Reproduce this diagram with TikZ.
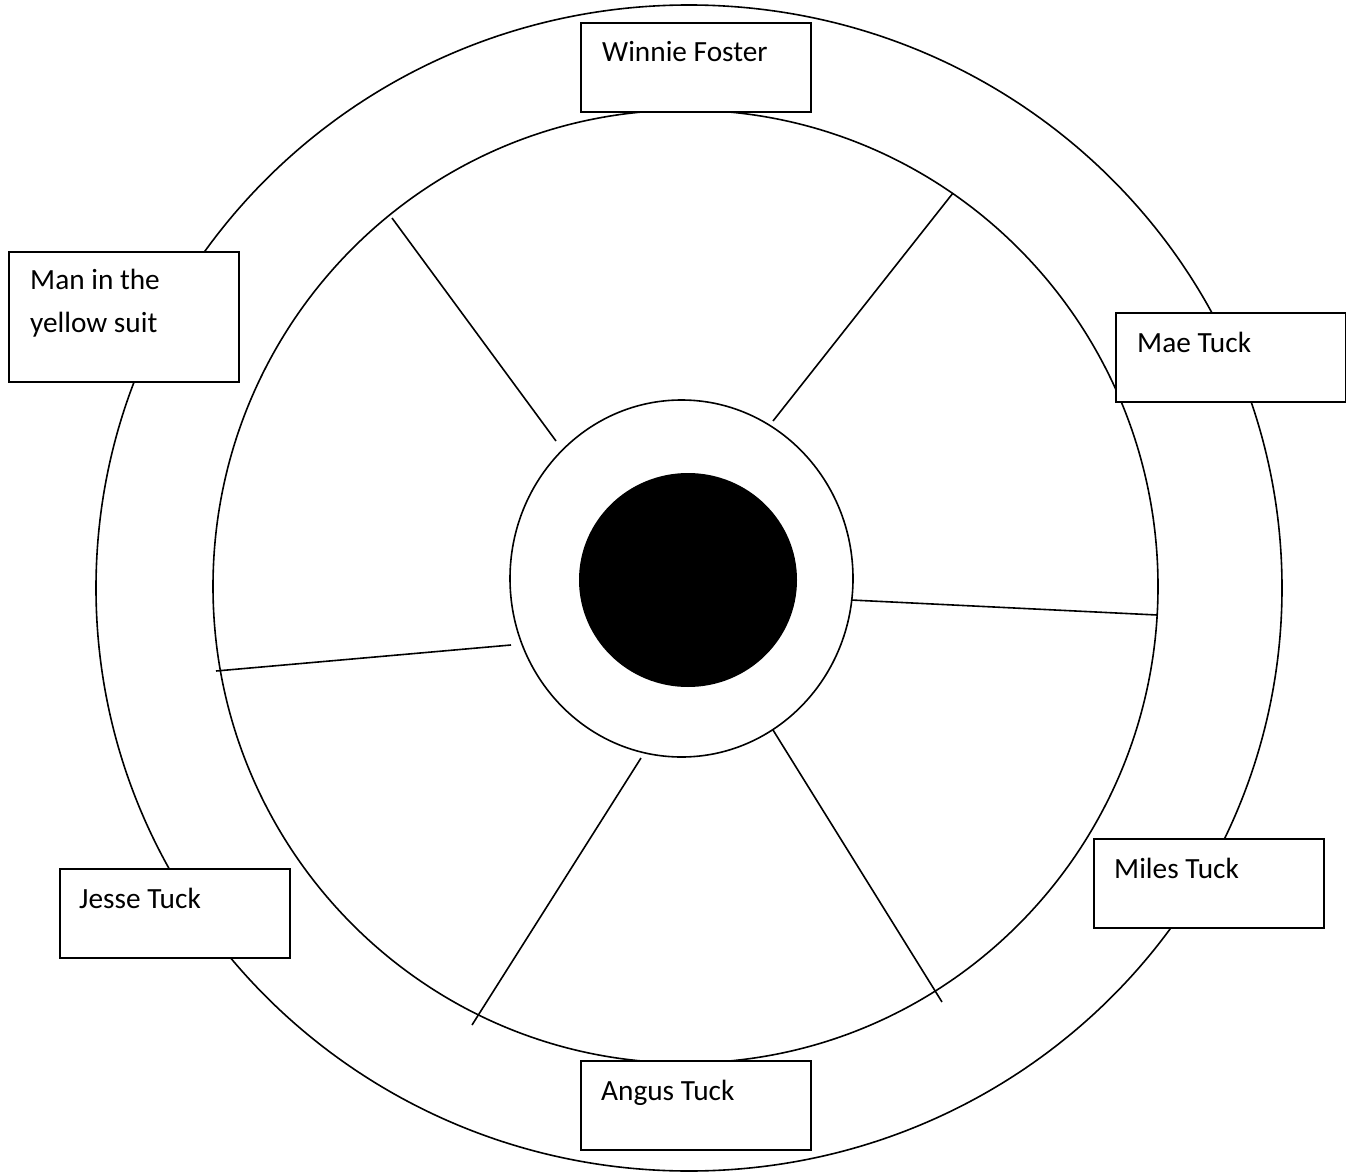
\documentclass[tikz,border=0pt]{standalone}
\usepackage{fontspec}
\setmainfont{Carlito}
\begin{document}
\begin{tikzpicture}[x=1pt,y=-1pt,
  ring/.style={draw=black,line width=1.6pt},
  spoke/.style={draw=black,line width=1.6pt},
  namebox/.style={draw=black,fill=white,line width=1.6pt,rectangle,minimum width=230pt,minimum height=89pt,anchor=north west,inner sep=0pt},
  lbl/.style={font=\fontsize{29.3}{42}\selectfont,anchor=base west,inner sep=0pt,align=left}]
\useasboundingbox (0,0) rectangle (1346,1174);
\fill[white] (0,0) rectangle (1346,1174);
% rings
\draw[ring] (689,588) ellipse [x radius=593, y radius=583];
\draw[ring] (685.5,586.5) ellipse [x radius=472.5, y radius=476.5];
\draw[ring] (681.5,578.5) ellipse [x radius=171.5, y radius=178.5];
\fill[black] (688,580) ellipse [x radius=109, y radius=107];
% spokes
\coordinate (s1a) at (392,218); \coordinate (s1b) at (556,441);
\coordinate (s2a) at (953,193); \coordinate (s2b) at (773,421);
\coordinate (s3a) at (851,600); \coordinate (s3b) at (1157,615);
\coordinate (s4a) at (511,645); \coordinate (s4b) at (216,671);
\coordinate (s5a) at (641,758); \coordinate (s5b) at (472,1025);
\coordinate (s6a) at (773,730); \coordinate (s6b) at (942,1002);
\draw[spoke] (s1a) -- (s1b);
\draw[spoke] (s2a) -- (s2b);
\draw[spoke] (s3a) -- (s3b);
\draw[spoke] (s4a) -- (s4b);
\draw[spoke] (s5a) -- (s5b);
\draw[spoke] (s6a) -- (s6b);
% boxes
\node[namebox] (bwinnie) at (580,22) {};
\node[namebox,minimum height=130pt] (bman) at (8,251) {};
\node[namebox] (bmae) at (1115,312) {};
\node[namebox] (bmiles) at (1093,838) {};
\node[namebox] (bjesse) at (59,868) {};
\node[namebox] (bangus) at (580,1060) {};
% labels
\node[lbl] (twinnie) at (602,62) {Winnie Foster};
\node[lbl] (tman1) at (30,290) {Man in the};
\node[lbl] (tman2) at (30,332) {yellow suit};
\node[lbl] (tmae) at (1137,352) {Mae Tuck};
\node[lbl] (tmiles) at (1114,878) {Miles Tuck};
\node[lbl] (tjesse) at (79,908) {Jesse Tuck};
\node[lbl] (tangus) at (601,1100) {Angus Tuck};
\end{tikzpicture}
\end{document}
